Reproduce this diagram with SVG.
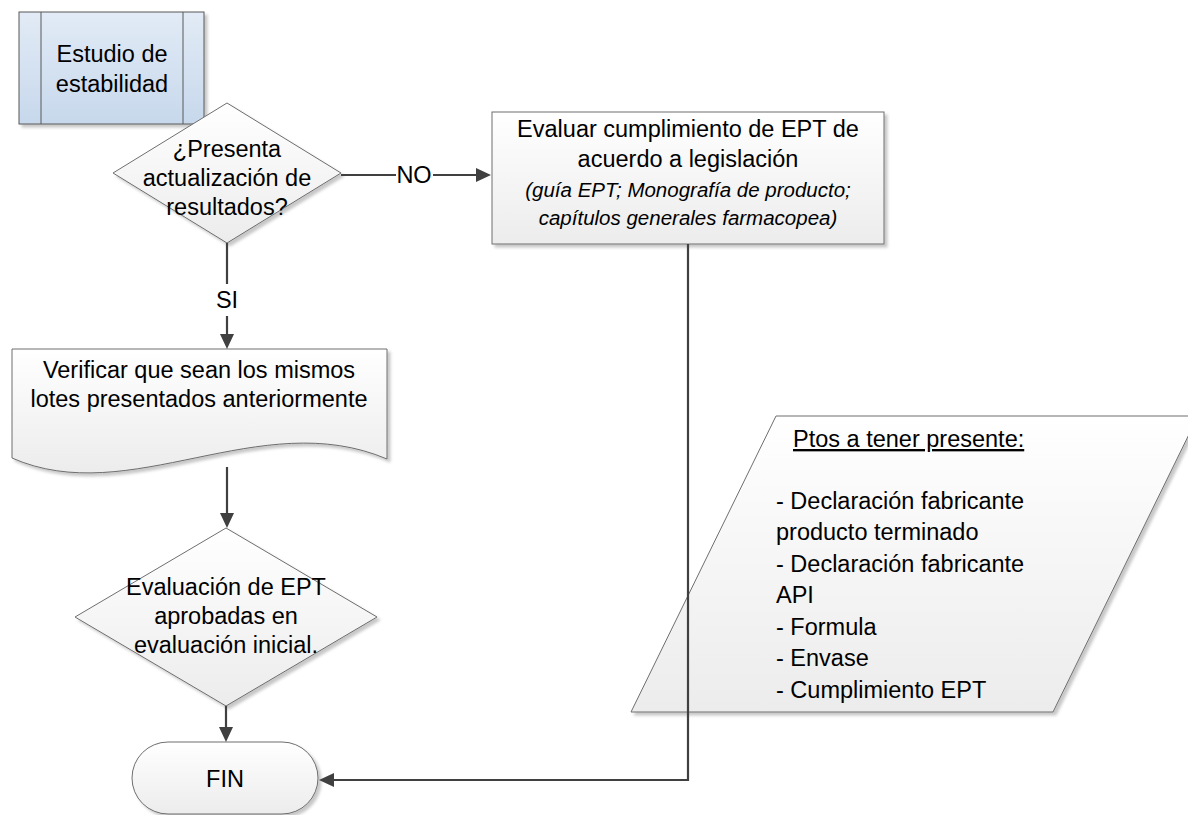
<svg xmlns="http://www.w3.org/2000/svg" width="1188" height="815" viewBox="0 0 1188 815">
<defs>
<linearGradient id="gGray" x1="0" y1="0" x2="0" y2="1"><stop offset="0" stop-color="#ffffff"/><stop offset="1" stop-color="#ececec"/></linearGradient>
<linearGradient id="gBlue" x1="0" y1="0" x2="0" y2="1"><stop offset="0" stop-color="#e2ebf6"/><stop offset="1" stop-color="#c7d8ec"/></linearGradient>
<filter id="sh" x="-10%" y="-10%" width="130%" height="130%"><feDropShadow dx="3" dy="3" stdDeviation="1.6" flood-color="#000" flood-opacity="0.22"/></filter>
</defs>
<style>
text{font-family:"Liberation Sans",Arial,sans-serif;font-size:23.5px;fill:#000}
.c{text-anchor:middle}
.it{font-style:italic;font-size:20.5px}
.shape{fill:url(#gGray);stroke:#6e6e6e;stroke-width:1;filter:url(#sh)}
.conn{fill:none;stroke:#404040;stroke-width:2.2}
.head{fill:#404040}
</style>
<g id="start">
<rect x="19" y="12" width="185" height="112" fill="url(#gBlue)" stroke="#595959" stroke-width="1" filter="url(#sh)"/>
<line x1="41" y1="12" x2="41" y2="124" stroke="#595959"/>
<line x1="183" y1="12" x2="183" y2="124" stroke="#595959"/>
<text class="c" x="112" y="62">Estudio de</text>
<text class="c" x="112" y="92">estabilidad</text>
</g>
<g id="decision1">
<polygon class="shape" points="227,103 341,173 227,243 113,173"/>
<text class="c" x="227" y="157">¿Presenta</text>
<text class="c" x="227" y="186">actualización de</text>
<text class="c" x="227" y="215">resultados?</text>
</g>
<g id="evaluar">
<rect class="shape" x="492" y="112" width="392" height="132"/>
<text class="c" x="688" y="137">Evaluar cumplimiento de EPT de</text>
<text class="c" x="688" y="167">acuerdo a legislación</text>
<text class="c it" x="688" y="197">(guía EPT; Monografía de producto;</text>
<text class="c it" x="688" y="225">capítulos generales farmacopea)</text>
</g>
<g id="verificar">
<path class="shape" d="M12,349 H387 V459 C260,405 130,510 12,458 Z"/>
<text class="c" x="199" y="378">Verificar que sean los mismos</text>
<text class="c" x="199" y="407">lotes presentados anteriormente</text>
</g>
<g id="decision2">
<polygon class="shape" points="226,528 377,617 226,706 75,617"/>
<text class="c" x="226" y="595">Evaluación de EPT</text>
<text class="c" x="226" y="624">aprobadas en</text>
<text class="c" x="226" y="653">evaluación inicial.</text>
</g>
<g id="notas">
<polygon class="shape" points="776,416 1198,416 1053,712 631,712"/>
<text x="793" y="447" text-decoration="underline">Ptos a tener presente:</text>
<text x="776" y="509">- Declaración fabricante</text>
<text x="776" y="540">producto terminado</text>
<text x="776" y="572">- Declaración fabricante</text>
<text x="776" y="603">API</text>
<text x="776" y="635">- Formula</text>
<text x="776" y="666">- Envase</text>
<text x="776" y="698">- Cumplimiento EPT</text>
</g>
<g id="fin">
<rect class="shape" x="132" y="742" width="186" height="72" rx="36" ry="36"/>
<text class="c" x="225" y="787">FIN</text>
</g>
<g id="connectors">
<path class="conn" d="M341,175 H396"/>
<path class="conn" d="M433,175 H478"/>
<path class="head" d="M476,168 L491,175 L476,182 z"/>
<path class="conn" d="M227,243 V284"/>
<path class="conn" d="M227,316 V336"/>
<path class="head" d="M220,334 L227,349 L234,334 z"/>
<path class="conn" d="M227,467 V515"/>
<path class="head" d="M220,513 L227,528 L234,513 z"/>
<path class="conn" d="M226,706 V729"/>
<path class="head" d="M219,727 L226,742 L233,727 z"/>
<path class="conn" d="M688,244 V780 H332"/>
<path class="head" d="M334,773 L319,780 L334,787 z"/>
<text class="c" x="414" y="183">NO</text>
<text class="c" x="227" y="308">SI</text>
</g>
</svg>
